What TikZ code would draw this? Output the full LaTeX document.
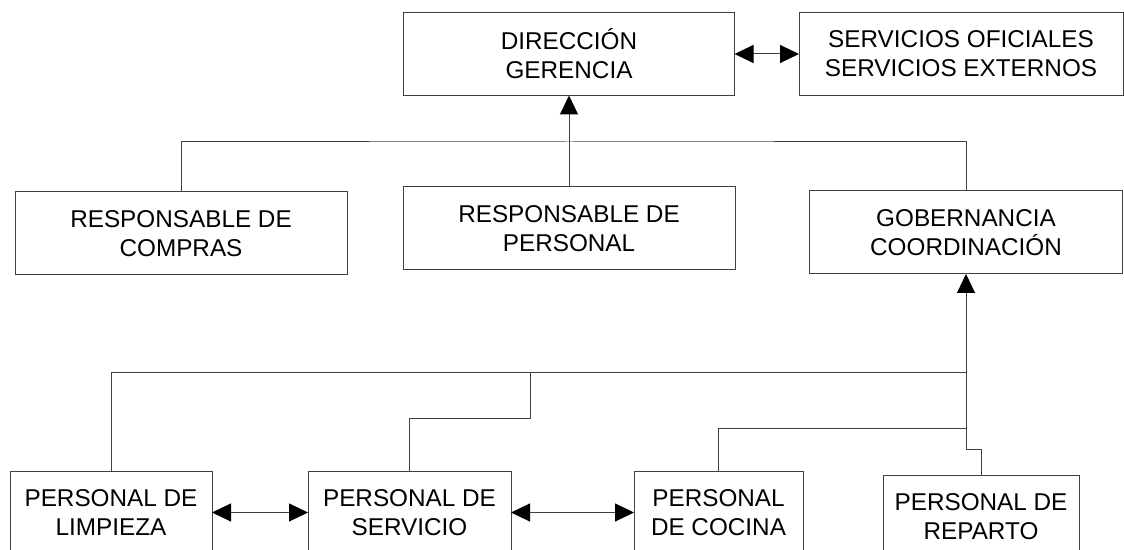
\documentclass[tikz,border=0pt]{standalone}
\usepackage{fontspec}
\setmainfont{Liberation Sans}
\usetikzlibrary{arrows.meta}
\newlength{\du}
\setlength{\du}{0.5pt}

\begin{document}
\begin{tikzpicture}[even odd rule,
  caja/.style={draw=dialinecolor,fill=diafillcolor,rectangle,inner sep=0pt,outer sep=0pt,
    align=center,minimum height=83\du,font=\fontsize{12.15}{14.5}\selectfont},
  conector/.style={draw=dialinecolor},
  flecha/.style={conector,-{Triangle[length=9.5pt,width=9pt,black]}},
  doble/.style={conector,{Triangle[length=9.5pt,width=9pt,black]}-{Triangle[length=9.5pt,width=9pt,black]}}]
\pgftransformxscale{1.000000}
\pgftransformyscale{-1.000000}
\definecolor{dialinecolor}{rgb}{0.250000, 0.250000, 0.250000}
\definecolor{diafillcolor}{rgb}{1.000000, 1.000000, 1.000000}
\pgfsetlinewidth{1.000000\du}
\path[use as bounding box] (0\du,0\du) rectangle (1124\du,550\du);
\clip (0\du,0\du) rectangle (1124\du,550\du);
% cajas
\node[caja,minimum width=331\du] (direccion) at (569\du,54\du) {DIRECCIÓN\\GERENCIA};
\node[caja,minimum width=324\du] (servicios) at (961\du,54\du) {SERVICIOS OFICIALES\\SERVICIOS EXTERNOS};
\node[caja,minimum width=332\du] (compras) at (181\du,233.5\du) {RESPONSABLE DE\\COMPRAS};
\node[caja,minimum width=332\du] (personal) at (569\du,228.5\du) {RESPONSABLE DE\\PERSONAL};
\node[caja,minimum width=313\du] (gobernancia) at (966\du,232.5\du) {GOBERNANCIA\\COORDINACIÓN};
\node[caja,minimum width=202\du] (limpieza) at (111\du,512.5\du) {PERSONAL DE\\LIMPIEZA};
\node[caja,minimum width=203\du] (servicio) at (409.5\du,512.5\du) {PERSONAL DE\\SERVICIO};
\node[caja,minimum width=169\du] (cocina) at (718.5\du,512.5\du) {PERSONAL\\DE COCINA};
\node[caja,minimum width=196\du] (reparto) at (981\du,516.5\du) {PERSONAL DE\\REPARTO};
% lineas
\coordinate (bus1) at (569\du,142\du);
\coordinate (bus2) at (966\du,373\du);
\coordinate (bus3) at (966\du,429\du);
\coordinate (bus4) at (966\du,449\du);
\coordinate (codo) at (530\du,419\du);
\draw[doble] (direccion) -- (servicios);
\draw[flecha] (personal) -- (direccion);
\draw[conector] (compras.north) |- (bus1) -| (gobernancia.north);
\draw[flecha] (bus4) -- (gobernancia);
\draw[conector] (limpieza.north) |- (bus2);
\draw[conector] (servicio.north) |- (codo) -- (codo |- bus2);
\draw[conector] (cocina.north) |- (bus3);
\draw[conector] (reparto.north) |- (bus4);
\draw[doble] (limpieza) -- (servicio);
\draw[doble] (servicio) -- (cocina);
\end{tikzpicture}
\end{document}
